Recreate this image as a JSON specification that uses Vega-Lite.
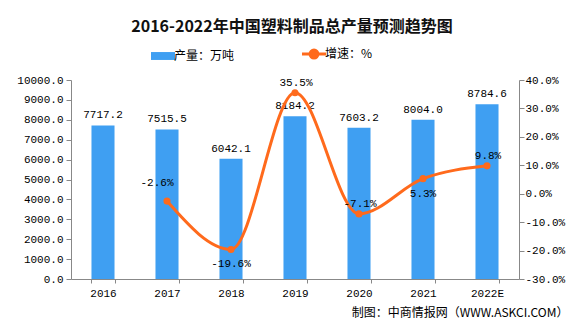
{
  "$schema": "https://vega.github.io/schema/vega-lite/v6.json",
  "width": 448,
  "height": 199,
  "autosize": {"type": "none"},
  "padding": {"left": 71, "top": 80, "right": 66, "bottom": 48},
  "background": "white",
  "title": {
    "text": "2016-2022年中国塑料制品总产量预测趋势图",
    "anchor": "middle",
    "frame": "group",
    "font": "Noto Sans CJK SC",
    "fontSize": 16,
    "fontWeight": "bold",
    "color": "#111111",
    "offset": 13,
    "dx": -3
  },
  "config": {
    "locale": {"number": {"decimal": ".", "thousands": ",", "grouping": [3], "currency": ["$", ""], "minus": "-"}},
    "view": {"stroke": null},
    "axis": {
      "labelFont": "Liberation Mono",
      "labelFontSize": 11,
      "labelColor": "#000000",
      "domainColor": "#888888",
      "tickColor": "#888888",
      "grid": false,
      "labelOverlap": false,
      "labelBound": false
    }
  },
  "data": {
    "values": [
      {"year": "2016", "output": 7717.2, "growth": null},
      {"year": "2017", "output": 7515.5, "growth": -0.026},
      {"year": "2018", "output": 6042.1, "growth": -0.196},
      {"year": "2019", "output": 8184.2, "growth": 0.355},
      {"year": "2020", "output": 7603.2, "growth": -0.071},
      {"year": "2021", "output": 8004.0, "growth": 0.053},
      {"year": "2022E", "output": 8784.6, "growth": 0.098}
    ]
  },
  "encoding": {
    "x": {
      "field": "year",
      "type": "ordinal",
      "sort": null,
      "scale": {"paddingInner": 0.64, "paddingOuter": 0.32},
      "axis": {
        "labelAngle": 0,
        "tickBand": "extent",
        "tickSize": 4,
        "labelPadding": 4,
        "title": "制图：中商情报网（WWW.ASKCI.COM）",
        "titleFont": "Noto Sans CJK SC",
        "titleFontSize": 12,
        "titleFontWeight": "normal",
        "titleColor": "#000000",
        "titleAnchor": "end",
        "titleAlign": "right",
        "titleBaseline": "middle",
        "titleX": 497,
        "titleY": 33
      }
    }
  },
  "layer": [
    {
      "encoding": {
        "y": {
          "field": "output",
          "type": "quantitative",
          "scale": {"domain": [0, 10000], "nice": false, "zero": true},
          "axis": {
            "title": null,
            "values": [0, 1000, 2000, 3000, 4000, 5000, 6000, 7000, 8000, 9000, 10000],
            "format": ".1f",
            "tickSize": 5,
            "labelPadding": 3,
            "labelOverlap": false,
            "labelFlush": false
          }
        }
      },
      "layer": [
        {
          "mark": {"type": "bar", "color": "#3F9FF2"},
          "encoding": {
            "color": {
              "datum": "产量：万吨",
              "type": "nominal",
              "scale": {"domain": ["产量：万吨", "增速：%"], "range": ["#3F9FF2", "#FF6A1C"]},
              "legend": {
                "title": null,
                "orient": "none",
                "direction": "horizontal",
                "legendX": 86,
                "legendY": -32,
                "labelFont": "Noto Sans CJK SC",
                "labelFontSize": 12,
                "labelColor": "#000000",
                "labelOffset": 5,
                "columnPadding": 61,
                "symbolSize": 576,
                "encode": {
                  "symbols": {
                    "update": {
                      "shape": {"signal": "datum.value === '产量：万吨' ? 'M-1,-0.33H1V0.33H-1Z' : 'M-1,0H1M0.33,0A0.33,0.33 0 1 1 -0.33,0A0.33,0.33 0 1 1 0.33,0'"},
                      "size": {"value": 576},
                      "fill": {"signal": "datum.value === '产量：万吨' ? '#3F9FF2' : '#FF6A1C'"},
                      "stroke": {"signal": "datum.value === '产量：万吨' ? '#3F9FF2' : '#FF6A1C'"},
                      "strokeWidth": {"signal": "datum.value === '产量：万吨' ? 0 : 3"},
                      "opacity": {"value": 1},
                      "fillOpacity": {"value": 1},
                      "strokeOpacity": {"value": 1}
                    }
                  }
                }
              }
            }
          }
        },
        {
          "mark": {"type": "text", "font": "Liberation Mono", "fontSize": 11, "color": "#000000", "baseline": "middle", "dy": -10},
          "encoding": {
            "text": {"field": "output", "type": "quantitative", "format": ".1f"}
          }
        }
      ]
    },
    {
      "transform": [{"filter": "isValid(datum.growth)"}],
      "encoding": {
        "y": {
          "field": "growth",
          "type": "quantitative",
          "scale": {"domain": [-0.3, 0.4], "nice": false, "zero": false},
          "axis": {
            "orient": "right",
            "title": null,
            "values": [-0.3, -0.2, -0.1, 0, 0.1, 0.2, 0.3, 0.4],
            "format": ".1%",
            "tickSize": 5,
            "labelPadding": 1,
            "labelOverlap": false,
            "labelFlush": false
          }
        }
      },
      "layer": [
        {
          "mark": {"type": "line", "interpolate": "monotone", "strokeWidth": 3, "point": {"size": 50, "filled": true}},
          "encoding": {
            "color": {"datum": "增速：%", "type": "nominal"}
          }
        },
        {
          "transform": [{"filter": {"field": "year", "oneOf": ["2019", "2020", "2022E"]}}],
          "mark": {"type": "text", "font": "Liberation Mono", "fontSize": 11, "color": "#000000", "baseline": "middle", "dy": -10, "dx": 1},
          "encoding": {
            "text": {"field": "growth", "type": "quantitative", "format": ".1%"}
          }
        },
        {
          "transform": [{"filter": {"field": "year", "oneOf": ["2018", "2021"]}}],
          "mark": {"type": "text", "font": "Liberation Mono", "fontSize": 11, "color": "#000000", "baseline": "middle", "dy": 15},
          "encoding": {
            "text": {"field": "growth", "type": "quantitative", "format": ".1%"}
          }
        },
        {
          "transform": [{"filter": {"field": "year", "oneOf": ["2017"]}}],
          "mark": {"type": "text", "font": "Liberation Mono", "fontSize": 11, "color": "#000000", "baseline": "middle", "dy": -18, "dx": -10},
          "encoding": {
            "text": {"field": "growth", "type": "quantitative", "format": ".1%"}
          }
        }
      ]
    }
  ],
  "resolve": {"scale": {"y": "independent"}}
}
